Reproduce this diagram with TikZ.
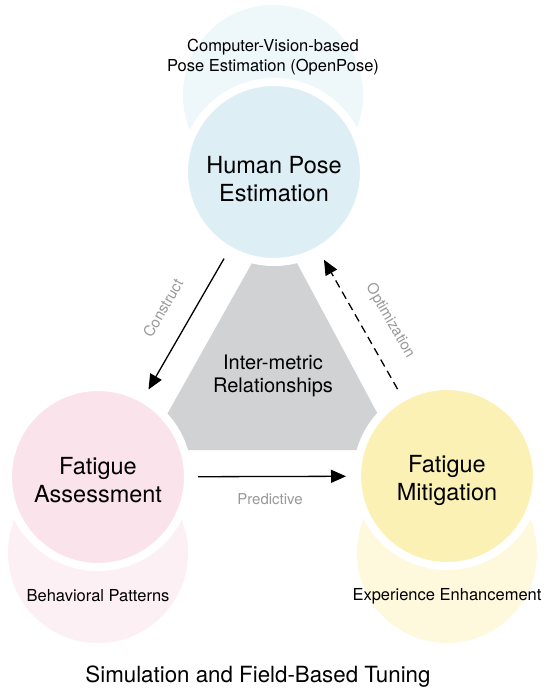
\documentclass[tikz,border=0pt]{standalone}
\usepackage{fontspec}
\setmainfont{TeX Gyre Heros}
\usetikzlibrary{arrows.meta}
\definecolor{hpemain}{HTML}{DDEEF5}
\definecolor{hpeback}{HTML}{EEF7FA}
\definecolor{famain}{HTML}{FBE3EB}
\definecolor{faback}{HTML}{FDF0F4}
\definecolor{fmmain}{HTML}{FCF1B5}
\definecolor{fmback}{HTML}{FEF9DD}
\definecolor{relgray}{HTML}{D1D2D4}
\definecolor{lblgray}{HTML}{999999}
\tikzset{
  backcirc/.style={circle, inner sep=0pt, minimum size=180pt},
  maincirc/.style={circle, draw=white, line width=8pt, inner sep=0pt, minimum size=180pt},
  maintxt/.style={align=center, font=\fontsize{23.5}{28}\selectfont},
  smalltxt/.style={align=center, font=\fontsize{16.5}{20}\selectfont},
  arrlbl/.style={text=lblgray, font=\fontsize{15}{18}\selectfont},
  arr/.style={line width=1.3pt, -{Triangle[length=15pt,width=13pt]}, shorten <=6pt, shorten >=7pt},
}
\begin{document}
\begin{tikzpicture}[x=1pt,y=-1pt]
\useasboundingbox (0,0) rectangle (550,695);
\fill[white] (0,0) rectangle (550,695);
% back circles
\node[backcirc, fill=hpeback] (hpeb) at (273,95) {};
\node[backcirc, fill=faback] (fab) at (98,553) {};
\node[backcirc, fill=fmback] (fmb) at (447,553) {};
% central triangle
\fill[relgray] (275,222) -- (147,450) -- (397,450) -- cycle;
% main circles
\node[maincirc, fill=hpemain] (hpe) at (274,172) {};
\node[maincirc, fill=famain] (fa) at (98,477) {};
\node[maincirc, fill=fmmain] (fm) at (447,476) {};
\node[maintxt] (hpet) at (274,179) {Human Pose\\Estimation};
\node[maintxt] (fat) at (98,480) {Fatigue\\Assessment};
\node[maintxt] (fmt) at (447,480) {Fatigue\\Mitigation};
% texts
\node[smalltxt] (cv) at (273,57) {Computer-Vision-based\\Pose Estimation (OpenPose)};
\node[smalltxt] (bp) at (98,596) {Behavioral Patterns};
\node[smalltxt] (ee) at (447,596) {Experience Enhancement};
\node[align=center, font=\fontsize{20}{23}\selectfont] (rel) at (273,376) {Inter-metric\\Relationships};
\node[font=\fontsize{22.3}{26}\selectfont] (sim) at (258,677) {Simulation and Field-Based Tuning};
% connectors
\draw[arr] (hpe) -- (fa);
\draw[arr, dash pattern=on 8pt off 5pt] (fm) -- (hpe);
\draw[arr] (fa) -- (fm);
\node[arrlbl, rotate=60] (lcon) at (163,308) {Construct};
\node[arrlbl, rotate=-60] (lopt) at (390,321) {Optimization};
\node[arrlbl] (lpred) at (270,499) {Predictive};
\end{tikzpicture}
\end{document}
